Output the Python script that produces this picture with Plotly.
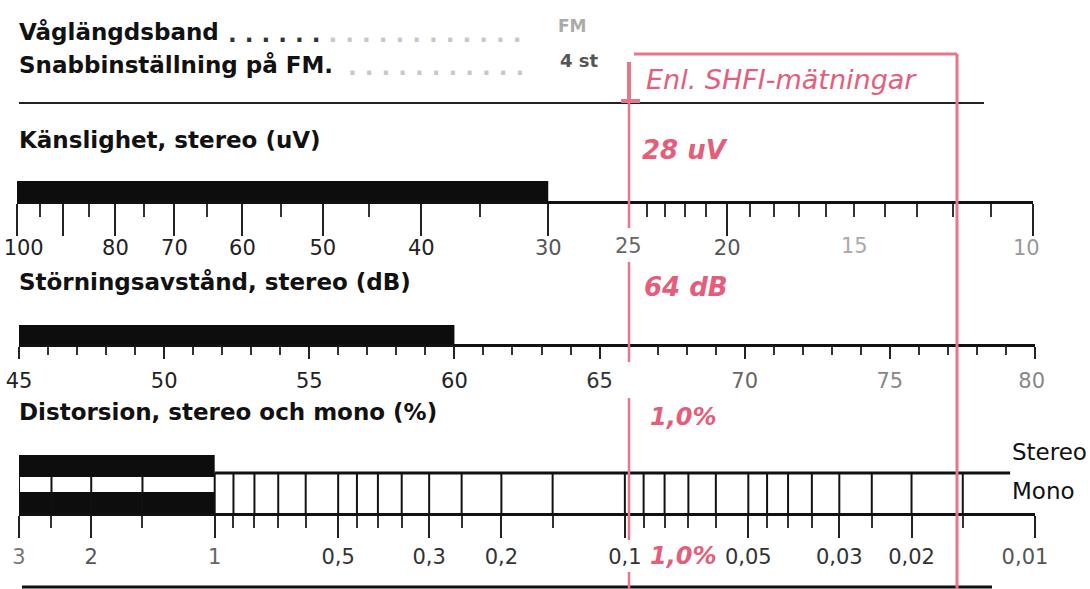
import math
import plotly.graph_objects as go

W, H = 1090, 589

# ---- data -------------------------------------------------------------
# Känslighet, stereo (uV) - log scale, 100 -> 10
SENS_LONG_TICKS = [100, 90, 80, 70, 60, 50, 40, 30, 20, 10]
SENS_LONG_LABELS = ['100', '', '80', '70', '60', '50', '40', '30', '20', '10']
SENS_SHORT_TICKS = [95, 85, 75, 65, 55, 45, 35, 25, 24, 23, 22, 21,
                    19, 18, 17, 16, 15, 14, 13, 12, 11]
SENS_EXTRA_LABEL_VALUES = [25, 15]
SENS_EXTRA_LABELS = ['25', '15']
SENS_BAR = [100, 30]
SENS_RESULT = '28 uV'

# Störningsavstånd, stereo (dB) - linear 45 -> 80
SNR_LABEL_TICKS = [45, 50, 55, 60, 65, 70, 75, 80]
SNR_LABELS = ['45', '50', '55', '60', '65', '70', '75', '80']
SNR_MINOR_TICKS = [v for v in range(45, 81) if v % 5 != 0]
SNR_BAR = [45, 60]
SNR_RESULT = '64 dB'

# Distorsion, stereo och mono (%) - log scale 3 -> 0.01
DIST_LABEL_TICKS = [3, 2, 1, 0.5, 0.3, 0.2, 0.1, 0.05, 0.03, 0.02, 0.01]
DIST_LABELS = ['3', '2', '1', '0,5', '0,3', '0,2', '0,1', '0,05', '0,03', '0,02', '0,01']
DIST_MINOR_TICKS = [2.5, 1.5, 0.9, 0.8, 0.7, 0.6, 0.45, 0.4, 0.35, 0.25, 0.15,
                    0.09, 0.08, 0.07, 0.06, 0.045, 0.04, 0.035, 0.025, 0.015]
DIST_BAR_STEREO = [3, 1]
DIST_BAR_MONO = [3, 1]
DIST_STEREO_LINE = [1, 0.0115]
DIST_RESULT = '1,0%'

HEADER_ROWS = ['Våglängdsband', 'Snabbinställning på FM.']
HEADER_VALUES = ['FM', '4 st']
TITLES = ['Känslighet, stereo (uV)', 'Störningsavstånd, stereo (dB)',
          'Distorsion, stereo och mono (%)']
FRAME_TITLE = 'Enl. SHFI-mätningar'


def px(x):
    return x / W


def py(y):
    return 1 - y / H


def col(texts, colors):
    return ['<span style="color:%s">%s</span>' % (c, t) for t, c in zip(texts, colors)]


PINK = '#e8758c'
PINK_TXT = '#e45e7b'
FONT = 'DejaVu Sans'
NB = '\u00a0'

# pixel rows of the three scales
SENS_LINE, SENS_TOP = 201, 181
SNR_LINE, SNR_TOP = 344, 325
DIST_LINE, STEREO_Y = 513, 473
STEREO_BAR = (455, 477)
MONO_BAR = (492, 515)

fig = go.Figure()


def block(xs, y0, y1, xa, ya):
    fig.add_trace(go.Scatter(
        x=[xs[0], xs[1], xs[1], xs[0], xs[0]], y=[y0, y0, y1, y1, y0],
        mode='lines', fill='toself', fillcolor='#0d0d0d',
        line=dict(width=0), xaxis=xa, yaxis=ya, hoverinfo='skip'))


block(SENS_BAR, SENS_TOP, SENS_LINE, 'x', 'y')
block(SNR_BAR, SNR_TOP, SNR_LINE, 'x2', 'y2')
block(DIST_BAR_STEREO, STEREO_BAR[0], STEREO_BAR[1], 'x3', 'y3')
block(DIST_BAR_MONO, MONO_BAR[0], MONO_BAR[1], 'x3', 'y3')

# stereo line
fig.add_trace(go.Scatter(x=DIST_STEREO_LINE, y=[STEREO_Y, STEREO_Y], mode='lines',
                         line=dict(color='#111', width=3), xaxis='x3', yaxis='y3',
                         hoverinfo='skip'))

# vertical divisions between stereo and mono lines
vx, vy = [], []
for v in sorted(DIST_LABEL_TICKS + DIST_MINOR_TICKS, reverse=True):
    if v >= 0.015:
        vx += [v, v, None]
        vy += [STEREO_Y, DIST_LINE, None]
fig.add_trace(go.Scatter(x=vx, y=vy, mode='lines', line=dict(color='#111', width=2),
                         xaxis='x3', yaxis='y3', hoverinfo='skip'))

tickfont = dict(family=FONT, size=21, color='#222')
axis_common = dict(showline=True, linecolor='#111', linewidth=3, showgrid=False,
                   zeroline=False, ticks='outside', tickcolor='#222', tickwidth=2,
                   tickfont=tickfont, tickmode='array', automargin=False,
                   fixedrange=True, ticklabeloverflow='allow')

sens_cols = ['#222', '#222', '#222', '#222', '#222', '#222', '#222', '#555', '#555', '#999']
snr_cols = ['#222', '#222', '#222', '#222', '#333', '#666', '#888', '#888']
dist_cols = ['#777', '#555', '#666', '#333', '#333', '#333', '#333', '#333', '#333', '#333', '#555']

# labels at the scale ends are printed slightly inside the end ticks
sens_text = col(SENS_LONG_LABELS, sens_cols)
sens_text[0] = NB * 2 + sens_text[0]
sens_text[-1] = sens_text[-1] + NB * 2
snr_text = col(SNR_LABELS, snr_cols)
snr_text[-1] = snr_text[-1] + NB
dist_text = col(DIST_LABELS, dist_cols)
dist_text[-1] = dist_text[-1] + NB * 3

yhidden = dict(visible=False, automargin=False, fixedrange=True)

fig.update_layout(
    width=W, height=H, margin=dict(l=0, r=0, t=0, b=0, pad=0, autoexpand=False),
    paper_bgcolor='white', plot_bgcolor='rgba(0,0,0,0)', showlegend=False,
    xaxis=dict(domain=[px(17), px(1033)], type='log', range=[2, 1], anchor='y',
               tickvals=SENS_LONG_TICKS, ticktext=sens_text, ticklen=32,
               ticklabelstandoff=-6,
               minor=dict(tickmode='array', tickvals=SENS_SHORT_TICKS, ticks='outside',
                          ticklen=13, tickwidth=2, tickcolor='#333', showgrid=False),
               **axis_common),
    yaxis=dict(domain=[py(SENS_LINE), py(172)], range=[SENS_LINE, 172], anchor='x',
               **yhidden),
    xaxis2=dict(domain=[px(19), px(1035)], range=[45, 80], anchor='y2',
                tickvals=SNR_LABEL_TICKS, ticktext=snr_text, ticklen=12,
                ticklabelstandoff=4,
                minor=dict(tickmode='array', tickvals=SNR_MINOR_TICKS, ticks='outside',
                           ticklen=8, tickwidth=2, tickcolor='#333', showgrid=False),
                **axis_common),
    yaxis2=dict(domain=[py(SNR_LINE), py(318)], range=[SNR_LINE, 318], anchor='x2',
                **yhidden),
    xaxis3=dict(domain=[px(19), px(1035)], type='log', range=[math.log10(3), -2],
                anchor='y3', tickvals=DIST_LABEL_TICKS, ticktext=dist_text,
                ticklen=22, ticklabelstandoff=1,
                minor=dict(tickmode='array', tickvals=DIST_MINOR_TICKS, ticks='outside',
                           ticklen=12, tickwidth=2, tickcolor='#333', showgrid=False),
                **axis_common),
    yaxis3=dict(domain=[py(DIST_LINE), py(450)], range=[DIST_LINE, 450], anchor='x3',
                **yhidden),
)

ann = []
bold = dict(family=FONT, size=23, color='#111', weight='bold')


def text(x, y, t, font, xanchor='left', xref='paper'):
    ann.append(dict(x=x, y=py(y), xref=xref, yref='paper', text=t, showarrow=False,
                    xanchor=xanchor, yanchor='middle', font=font))


# header
text(px(17), 32, HEADER_ROWS[0], bold)
text(px(17), 65, HEADER_ROWS[1], bold)
text(px(226), 34, '<span style="color:#333">. . . . . .</span>'
     '<span style="color:#c8c8c8"> . . . . . . . . . . . .</span>', bold)
text(px(346), 67, '<span style="color:#c8c8c8">. . . . . . . . . . .</span>', bold)
text(px(556), 26, HEADER_VALUES[0], dict(family=FONT, size=17, color='#aaa', weight='bold'))
text(px(558), 61, HEADER_VALUES[1], dict(family=FONT, size=18, color='#555', weight='bold'))

# section titles
text(px(17), 140, TITLES[0], bold)
text(px(17), 282, TITLES[1], bold)
text(px(17), 412, TITLES[2], bold)
text(px(1010), 452, 'Stereo', dict(family=FONT, size=23, color='#111'))
text(px(1010), 491, 'Mono', dict(family=FONT, size=23, color='#111'))

# extra sensitivity labels sitting on short ticks
for v, t, c in zip(SENS_EXTRA_LABEL_VALUES, SENS_EXTRA_LABELS, ['#666', '#aaa']):
    ann.append(dict(x=math.log10(v), y=py(246), xref='x', yref='paper', text=t,
                    showarrow=False, xanchor='center', yanchor='middle',
                    font=dict(family=FONT, size=21, color=c)))

# SHFI results
red = dict(family=FONT, size=26, color=PINK_TXT, style='italic', weight='bold')
text(px(644), 80, FRAME_TITLE, dict(family=FONT, size=27, color=PINK_TXT, style='italic'))
text(px(640), 150, SENS_RESULT, red)
text(px(642), 287, SNR_RESULT, red)
text(px(648), 417, DIST_RESULT, dict(red, size=24))
text(px(648), 556, DIST_RESULT, dict(red, size=24))

fig.update_layout(annotations=ann)

# frame and rules
shapes = []


def seg(x0, y0, x1, y1, color, width):
    shapes.append(dict(type='line', xref='paper', yref='paper', x0=px(x0), y0=py(y0),
                       x1=px(x1), y1=py(y1), line=dict(color=color, width=width)))


seg(19, 103, 984, 103, '#222', 2)
seg(22, 587, 992, 587, '#111', 3)
seg(634, 54, 957, 54, PINK, 3)
seg(957, 54, 957, 589, PINK, 3)
seg(629, 62, 629, 101, PINK, 4)
seg(621, 101, 640, 101, PINK, 4)
seg(629, 101, 629, 228, PINK, 2.5)
seg(629, 262, 629, 362, PINK, 2.5)
seg(629, 398, 629, 540, PINK, 2.5)
seg(629, 572, 629, 589, PINK, 2.5)
fig.update_layout(shapes=shapes)

fig.write_html("out.html", config={'displayModeBar': False},
               post_script="document.body.style.margin='0';")
